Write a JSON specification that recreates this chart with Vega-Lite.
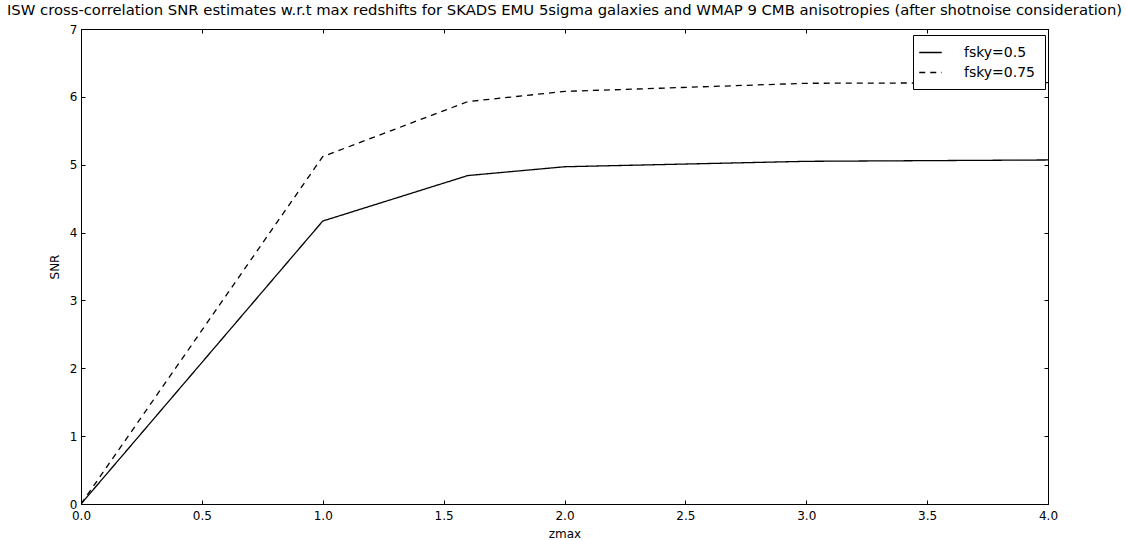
{
  "$schema": "https://vega.github.io/schema/vega-lite/v6.json",
  "autosize": "none",
  "padding": {"left": 81, "top": 29, "right": 78, "bottom": 36},
  "width": 967,
  "height": 475,
  "background": "white",
  "config": {
    "font": "DejaVu Sans",
    "view": {"stroke": "black", "strokeWidth": 1},
    "axis": {"grid": false, "domainColor": "black", "tickColor": "black", "labelColor": "black", "titleColor": "black", "labelFont": "DejaVu Sans", "titleFont": "DejaVu Sans", "labelFontSize": 12, "titleFontSize": 12, "titleFontWeight": "normal", "tickSize": -4, "labelOverlap": false, "labelFlush": false}
  },
  "title": {"text": "ISW cross-correlation SNR estimates w.r.t max redshifts for SKADS EMU 5sigma galaxies and WMAP 9 CMB anisotropies (after shotnoise consideration)", "fontSize": 14.8, "fontWeight": "normal", "font": "DejaVu Sans", "color": "black", "anchor": "middle", "offset": 5},
  "data": {"values": [
    {"zmax": 0.0, "SNR": 0.0, "series": "fsky=0.5"},
    {"zmax": 1.0, "SNR": 4.17, "series": "fsky=0.5"},
    {"zmax": 1.6, "SNR": 4.84, "series": "fsky=0.5"},
    {"zmax": 2.0, "SNR": 4.97, "series": "fsky=0.5"},
    {"zmax": 3.0, "SNR": 5.05, "series": "fsky=0.5"},
    {"zmax": 4.0, "SNR": 5.07, "series": "fsky=0.5"},
    {"zmax": 0.0, "SNR": 0.0, "series": "fsky=0.75"},
    {"zmax": 1.0, "SNR": 5.12, "series": "fsky=0.75"},
    {"zmax": 1.6, "SNR": 5.93, "series": "fsky=0.75"},
    {"zmax": 2.0, "SNR": 6.08, "series": "fsky=0.75"},
    {"zmax": 3.0, "SNR": 6.2, "series": "fsky=0.75"},
    {"zmax": 4.0, "SNR": 6.21, "series": "fsky=0.75"}
  ]},
  "layer": [
    {
      "mark": {"type": "line", "color": "black", "strokeWidth": 1.3, "clip": true},
      "encoding": {
        "x": {"field": "zmax", "type": "quantitative", "scale": {"domain": [0, 4], "nice": false}, "axis": {"title": "zmax", "values": [0, 0.5, 1, 1.5, 2, 2.5, 3, 3.5, 4], "format": ".1f", "titlePadding": 7, "labelPadding": 10}},
        "y": {"field": "SNR", "type": "quantitative", "scale": {"domain": [0, 7], "nice": false}, "axis": {"title": "SNR", "values": [0,1,2,3,4,5,6,7], "titlePadding": 8, "labelPadding": 8}},
        "strokeDash": {"field": "series", "type": "nominal", "scale": {"domain": ["fsky=0.5", "fsky=0.75"], "range": [[1, 0], [6, 5]]},
          "legend": {"title": null, "orient": "none", "legendX": 832, "legendY": 6, "strokeColor": "black", "padding": 9, "labelFontSize": 14, "labelFont": "DejaVu Sans", "labelColor": "black", "symbolType": "M-1.5,0H1.5", "symbolStrokeColor": "black", "symbolStrokeWidth": 1.5, "symbolSize": 225, "rowPadding": 4, "labelOffset": 25, "fillColor": "white"}}
      }
    },
    {
      "mark": {"type": "point", "opacity": 0},
      "encoding": {
        "x": {"field": "zmax", "type": "quantitative", "scale": {"domain": [0, 4], "nice": false}, "axis": {"orient": "top", "labels": false, "title": null, "values": [0, 0.5, 1, 1.5, 2, 2.5, 3, 3.5, 4]}},
        "y": {"field": "SNR", "type": "quantitative", "scale": {"domain": [0, 7], "nice": false}, "axis": {"orient": "right", "labels": false, "title": null, "values": [0,1,2,3,4,5,6,7]}}
      }
    }
  ],
  "resolve": {"axis": {"x": "independent", "y": "independent"}}
}
